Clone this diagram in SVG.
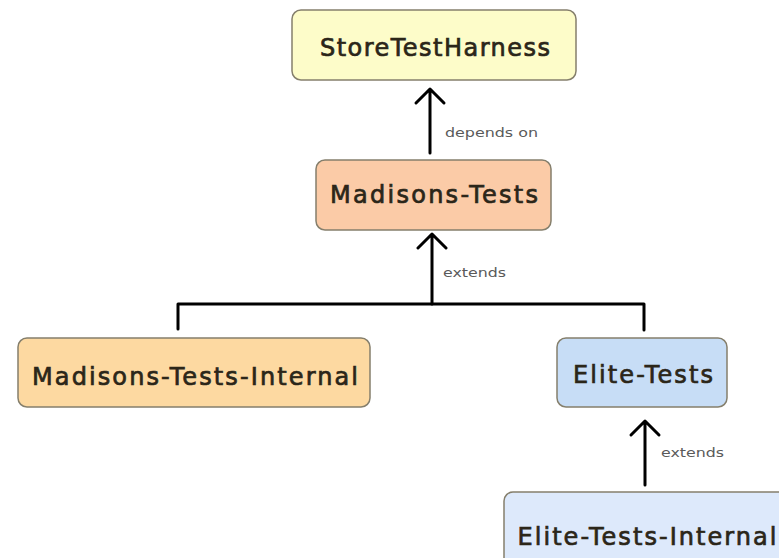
<svg xmlns="http://www.w3.org/2000/svg" width="779" height="558" viewBox="0 0 779 558">
<style>
.box{stroke:#857f6c;stroke-width:1.5}
.t{font-family:"DejaVu Sans",Verdana,sans-serif;font-size:24px;fill:#2b2619;stroke:#2b2619;stroke-width:0.7;text-anchor:middle}
.lbl{font-family:"DejaVu Sans",Verdana,sans-serif;font-size:12px;fill:#5a5a5a}
.c{fill:none;stroke:#000;stroke-width:3;stroke-linecap:round;stroke-linejoin:round}
</style>
<rect width="779" height="558" fill="#fff"/>
<g id="connectors">
<path class="c" d="M430 153V89M416 103L430 89L444 103"/>
<path class="c" d="M432 304V234M418 248L432 234L446 248"/>
<path class="c" d="M178 329V304H644V330"/>
<path class="c" d="M645 485V421M631 435L645 421L659 435"/>
<text class="lbl" x="445" y="137" textLength="93" lengthAdjust="spacingAndGlyphs">depends on</text>
<text class="lbl" x="443" y="277" textLength="63" lengthAdjust="spacingAndGlyphs">extends</text>
<text class="lbl" x="661" y="457" textLength="63" lengthAdjust="spacingAndGlyphs">extends</text>
</g>
<g id="StoreTestHarness">
<rect class="box" x="292" y="10" width="284" height="70" rx="9" fill="#fdfcc9"/>
<text class="t" x="435" y="56" textLength="230" lengthAdjust="spacing">StoreTestHarness</text>
</g>
<g id="Madisons-Tests">
<rect class="box" x="316" y="160" width="235" height="70" rx="9" fill="#fbcba7"/>
<text class="t" x="434" y="203" textLength="208" lengthAdjust="spacing">Madisons-Tests</text>
</g>
<g id="Madisons-Tests-Internal">
<rect class="box" x="18" y="338" width="352" height="69" rx="9" fill="#fdd9a1"/>
<text class="t" x="195" y="385" textLength="326" lengthAdjust="spacing">Madisons-Tests-Internal</text>
</g>
<g id="Elite-Tests">
<rect class="box" x="557" y="338" width="170" height="69" rx="9" fill="#c7ddf6"/>
<text class="t" x="643" y="383" textLength="140" lengthAdjust="spacing">Elite-Tests</text>
</g>
<g id="Elite-Tests-Internal">
<rect class="box" x="504" y="492" width="290" height="80" rx="9" fill="#dde9fb"/>
<text class="t" x="647" y="545" textLength="259" lengthAdjust="spacing">Elite-Tests-Internal</text>
</g>
</svg>
